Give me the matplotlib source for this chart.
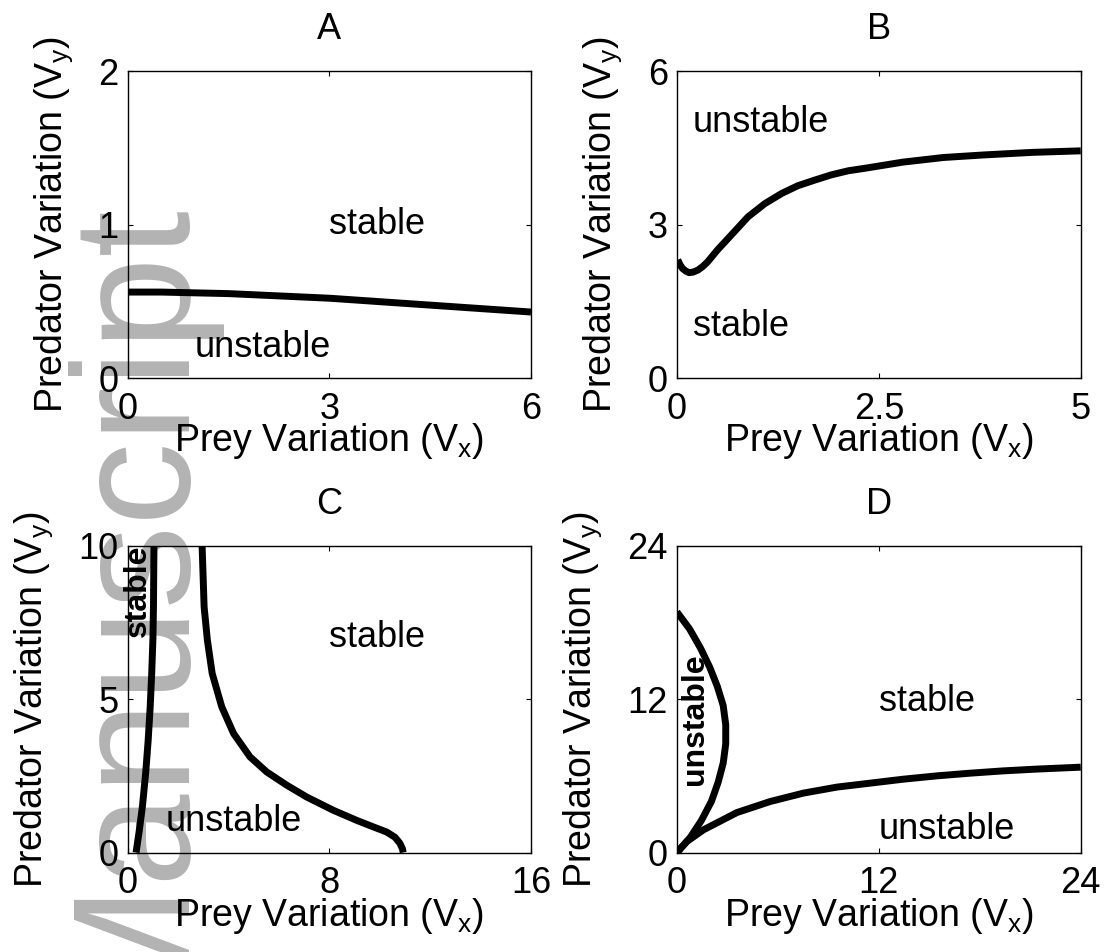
import numpy as np
import matplotlib
matplotlib.use("Agg")
from matplotlib import pyplot as plt

plt.rcParams['font.family'] = 'Liberation Sans'
plt.rcParams['mathtext.fontset'] = 'custom'
plt.rcParams['mathtext.rm'] = 'Liberation Sans'
plt.rcParams['mathtext.it'] = 'Liberation Sans'

# ---- dati ----
# A
xa = [0, 0.5, 1, 1.5, 2, 2.5, 3, 3.5, 4, 4.5, 5, 5.5, 6]
ya = [0.56, 0.56, 0.555, 0.55, 0.54, 0.53, 0.52, 0.505, 0.49, 0.475, 0.46, 0.445, 0.43]
# B
xb = [0.01, 0.04, 0.07, 0.11, 0.15, 0.2, 0.26, 0.32, 0.38, 0.5, 0.67, 0.88, 1.09, 1.3,
      1.5, 1.71, 1.91, 2.12, 2.33, 2.8, 3.3, 3.8, 4.4, 5.0]
yb = [2.31, 2.21, 2.14, 2.09, 2.06, 2.07, 2.11, 2.18, 2.27, 2.5, 2.79, 3.15, 3.41, 3.61,
      3.76, 3.87, 3.97, 4.05, 4.1, 4.22, 4.31, 4.36, 4.41, 4.44]
# C (due rami)
xc1 = [0.33, 0.46, 0.58, 0.71, 0.81, 0.89, 0.95, 1.0, 1.02, 1.04]
yc1 = [0, 0.73, 1.49, 2.58, 3.66, 4.75, 5.84, 7.0, 8.01, 10]
xc2 = [2.95, 3.03, 3.16, 3.35, 3.73, 4.2, 4.85, 5.51, 6.3, 7.1, 8.15, 9.08, 9.73,
       10.27, 10.6, 10.8, 10.9, 10.93]
yc2 = [10, 8.01, 6.92, 5.84, 4.75, 3.88, 3.12, 2.63, 2.2, 1.81, 1.38, 1.05, 0.84,
       0.67, 0.5, 0.3, 0.12, 0]
# D (arco + ramo inferiore)
xd1 = [0, 0.75, 1.4, 1.95, 2.4, 2.75, 2.9, 2.9, 2.75, 2.45, 2.05, 1.45, 0.8, 0]
yd1 = [18.83, 17.5, 16.0, 14.5, 13.0, 11.5, 10.0, 8.5, 7.0, 5.5, 4.0, 2.5, 1.2, 0]
xd2 = [0, 0.59, 1.58, 3.57, 5.54, 7.52, 9.51, 11.49, 13.46, 15.45, 17.43, 19.4, 21.39, 24]
yd2 = [0, 0.86, 1.78, 3.13, 3.99, 4.65, 5.12, 5.43, 5.74, 6.0, 6.21, 6.39, 6.53, 6.68]

titles = ['A', 'B', 'C', 'D']
xlims = [(0, 6), (0, 5), (0, 16), (0, 24)]
ylims = [(0, 2), (0, 6), (0, 10), (0, 24)]
xticks = [[0, 3, 6], [0, 2.5, 5], [0, 8, 16], [0, 12, 24]]
yticks = [[0, 1, 2], [0, 3, 6], [0, 5, 10], [0, 12, 24]]
xticklabels = [['0', '3', '6'], ['0', '2.5', '5'], ['0', '8', '16'], ['0', '12', '24']]
yticklabels = [['0', '1', '2'], ['0', '3', '6'], ['0', '5', '10'], ['0', '12', '24']]

fig = plt.figure(figsize=(11.09, 9.52), dpi=100)

# filigrana
fig.text(0.120, 0.366, 'Manuscript', rotation=90, ha='center', va='center',
         fontsize=120, color='#b3b3b3', zorder=-1)

pos = [[0.1152, 0.6029, 0.3636, 0.3225],
       [0.6104, 0.6029, 0.3641, 0.3225],
       [0.1152, 0.1045, 0.3636, 0.3221],
       [0.6104, 0.1045, 0.3641, 0.3221]]

fs = 26
axs = []
for i in range(4):
    ax = fig.add_axes(pos[i])
    ax.set_facecolor('none')
    ax.set_xlim(xlims[i])
    ax.set_ylim(ylims[i])
    ax.set_xticks(xticks[i])
    ax.set_xticklabels(xticklabels[i])
    ax.set_yticks(yticks[i])
    ax.set_yticklabels(yticklabels[i])
    ax.tick_params(direction='in', top=True, right=True, length=3.5, width=0.8,
                   labelsize=fs)
    ax.tick_params(axis='x', pad=10)
    ax.tick_params(axis='y', pad=6.5)
    for s in ax.spines.values():
        s.set_linewidth(1.0)
    ax.set_title(titles[i], fontsize=fs, pad=23)
    ax.set_xlabel(r'Prey Variation (V$_{\mathrm{x}}$)', fontsize=27, labelpad=-4)
    ax.set_ylabel(r'Predator Variation (V$_{\mathrm{y}}$)', fontsize=27, labelpad=17)
    axs.append(ax)

lw = 5
axs[0].plot(xa, ya, 'k-', lw=lw, solid_capstyle='butt')
axs[0].text(3, 1, 'stable', fontsize=fs, va='center')
axs[0].text(1, 0.2, 'unstable', fontsize=fs, va='center')

axs[1].plot(xb, yb, 'k-', lw=lw, solid_capstyle='butt')
axs[1].text(0.2, 5, 'unstable', fontsize=fs, va='center')
axs[1].text(0.2, 1, 'stable', fontsize=fs, va='center')

axs[2].plot(xc1, yc1, 'k-', lw=lw, solid_capstyle='butt')
axs[2].plot(xc2, yc2, 'k-', lw=lw, solid_capstyle='butt')
axs[2].text(8, 7, 'stable', fontsize=fs, va='center')
axs[2].text(1.5, 1, 'unstable', fontsize=fs, va='center')
axs[2].text(0.42, 7.03, 'stable', fontsize=23, fontweight='bold', rotation=90,
            rotation_mode='anchor', ha='left', va='center')

axs[3].plot(xd1, yd1, 'k-', lw=lw, solid_capstyle='butt')
axs[3].plot(xd2, yd2, 'k-', lw=lw, solid_capstyle='butt')
axs[3].text(12, 11.8, 'stable', fontsize=fs, va='center')
axs[3].text(12, 1.8, 'unstable', fontsize=fs, va='center')
axs[3].text(1.1, 5.25, 'unstable', fontsize=23, fontweight='bold', rotation=90,
            rotation_mode='anchor', ha='left', va='center')

plt.savefig('out.png', dpi=100)
